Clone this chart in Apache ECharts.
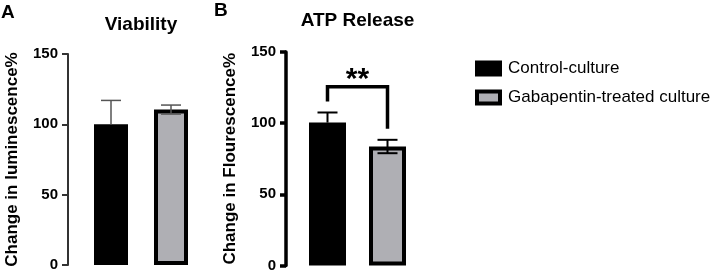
<!DOCTYPE html>
<html><head><meta charset="utf-8">
<script src="https://cdn.jsdelivr.net/npm/echarts@6/dist/echarts.min.js"></script>
<style>html,body{margin:0;padding:0;background:#fff}#c{width:713px;height:273px}</style>
</head><body><div id="c"></div>
<script>
const categories = ['Control-culture', 'Gabapentin-treated culture'];
const viabilityMean = [100, 110.5];
const viabilityErr = [17, 3.2];
const atpMean = [100.4, 83.6];
const atpErr = [7.1, 4.7];
const yTicks = [0, 50, 100, 150];
const bracketLevels = [115.2, 125.5, 96]; // left end, top, right end
const sigLabel = '**';
const panelTitles = ['Viability', 'ATP Release'];
const panelLetters = ['A', 'B'];
const yNames = ['Change in luminescence%', 'Change in Flourescence%'];

const FONT = '"Liberation Sans", Arial, sans-serif';
const GRAY = '#afafb4';

function errSeries(gi, mean, err, color, lw) {
  return {
    type: 'custom', xAxisIndex: gi, yAxisIndex: gi, z: 5, silent: true,
    data: mean.map((m, i) => [i, m, err[i], i]),
    renderItem: function (params, api) {
      const x = api.value(0), m = api.value(1), e = api.value(2), idx = api.value(3);
      const pTop = api.coord([x, m + e]);
      const pMid = api.coord([x, m]);
      const pBot = api.coord([x, m - e]);
      const hw = 10;
      const st = { stroke: color, lineWidth: lw };
      const children = [
        { type: 'line', shape: { x1: pTop[0], y1: pTop[1], x2: pTop[0], y2: idx === 0 ? pMid[1] : pBot[1] }, style: st },
        { type: 'line', shape: { x1: pTop[0] - hw, y1: pTop[1], x2: pTop[0] + hw, y2: pTop[1] }, style: st }
      ];
      if (idx === 1) children.push({ type: 'line', shape: { x1: pBot[0] - hw, y1: pBot[1], x2: pBot[0] + hw, y2: pBot[1] }, style: st });
      return { type: 'group', children: children };
    }
  };
}

function barPair(gi, mean, bw, border) {
  return [
    { name: categories[0], type: 'bar', xAxisIndex: gi, yAxisIndex: gi, barWidth: bw, barGap: '-100%',
      itemStyle: { color: '#000', borderColor: '#000', borderWidth: border },
      data: [mean[0], '-'] },
    { name: categories[1], type: 'bar', xAxisIndex: gi, yAxisIndex: gi, barWidth: bw, barGap: '-100%',
      itemStyle: { color: GRAY, borderColor: '#000', borderWidth: border },
      data: ['-', mean[1]] }
  ];
}

function yAxisCfg(gi, offset, lineW, lineColor, name) {
  return {
    gridIndex: gi, type: 'value', min: 0, max: 150, interval: 50, offset: offset,
    axisLine: { show: true, lineStyle: { color: lineColor, width: lineW } },
    axisTick: { show: true, length: 6, lineStyle: { color: lineColor, width: lineW } },
    axisLabel: { color: '#000', fontFamily: FONT, fontWeight: 'bold', fontSize: 15, margin: 10,
      formatter: v => yTicks.includes(v) ? String(v) : '' },
    splitLine: { show: false },
    name: name, nameLocation: 'middle', nameRotate: 90, nameGap: 47,
    nameTextStyle: { color: '#000', fontFamily: FONT, fontWeight: 'bold', fontSize: 17 }
  };
}

const chart = echarts.init(document.getElementById('c'), null, { renderer: 'canvas' });
chart.setOption({
  animation: false,
  backgroundColor: '#fff',
  grid: [
    { left: 81, width: 120, top: 54, height: 211 },
    { left: 297.5, width: 120, top: 52, height: 214 }
  ],
  xAxis: [0, 1].map(gi => ({ gridIndex: gi, type: 'category', data: categories, show: false })),
  yAxis: [
    yAxisCfg(0, 13, 2, '#333', yNames[0]),
    yAxisCfg(1, 11.5, 3.5, '#000', yNames[1])
  ],
  legend: {
    orient: 'vertical', left: 475, top: 60, padding: 0, itemGap: 12,
    itemWidth: 23, itemHeight: 12, icon: 'rect',
    data: [
      { name: categories[0], itemStyle: { color: '#000', borderColor: '#000', borderWidth: 4 } },
      { name: categories[1], itemStyle: { color: GRAY, borderColor: '#000', borderWidth: 4 } }
    ],
    textStyle: { color: '#000', fontFamily: FONT, fontSize: 17, padding: [0, 0, 0, 3] }
  },
  graphic: [
    { type: 'text', x: 1, y: 13, style: { text: panelLetters[0], font: 'bold 19px ' + FONT, fill: '#000', textVerticalAlign: 'middle' } },
    { type: 'text', x: 214, y: 11, style: { text: panelLetters[1], font: 'bold 19px ' + FONT, fill: '#000', textVerticalAlign: 'middle' } },
    { type: 'text', x: 141, y: 25, style: { text: panelTitles[0], font: 'bold 19px ' + FONT, fill: '#000', textAlign: 'center', textVerticalAlign: 'middle' } },
    { type: 'text', x: 357.5, y: 21, style: { text: panelTitles[1], font: 'bold 19px ' + FONT, fill: '#000', textAlign: 'center', textVerticalAlign: 'middle' } }
  ],
  series: [
    ...barPair(0, viabilityMean, 34, 4),
    ...barPair(1, atpMean, 37, 4),
    errSeries(0, viabilityMean, viabilityErr, '#555', 1.5),
    errSeries(1, atpMean, atpErr, '#000', 2),
    {
      type: 'custom', xAxisIndex: 1, yAxisIndex: 1, z: 6, silent: true,
      data: [[0, 1, bracketLevels[0], bracketLevels[1], bracketLevels[2]]],
      renderItem: function (params, api) {
        const l = api.coord([api.value(0), api.value(2)]);
        const tl = api.coord([api.value(0), api.value(3)]);
        const tr = api.coord([api.value(1), api.value(3)]);
        const r = api.coord([api.value(1), api.value(4)]);
        return { type: 'group', children: [
          { type: 'polyline', shape: { points: [l, tl, tr, r] }, style: { stroke: '#000', lineWidth: 3.5, fill: null, lineJoin: 'miter' } },
          { type: 'text', x: (tl[0] + tr[0]) / 2, y: tl[1] - 7, style: { text: sigLabel, font: 'bold 30px ' + FONT, fill: '#000', textAlign: 'center', textVerticalAlign: 'middle' } }
        ]};
      }
    }
  ]
});
</script></body></html>
